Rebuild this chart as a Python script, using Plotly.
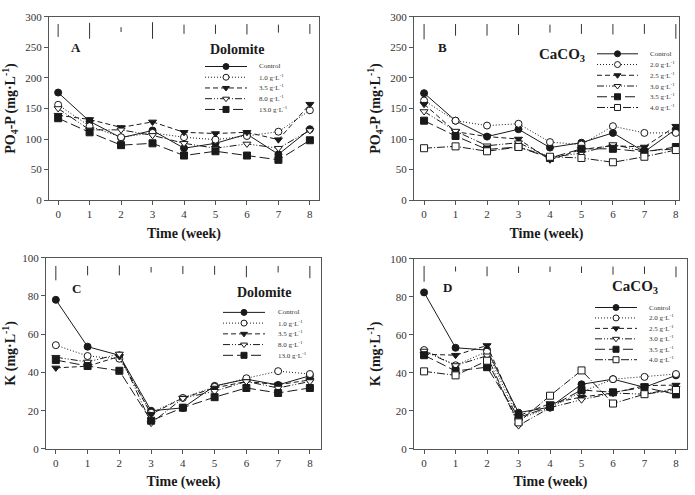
import plotly.graph_objects as go

W, H = 695, 495
weeks = [0, 1, 2, 3, 4, 5, 6, 7, 8]

# ---- Panel A: PO4-P, Dolomite ----
a_labels = ["Control", "1.0 g·L<sup>-1</sup>", "3.5 g·L<sup>-1</sup>", "8.0 g·L<sup>-1</sup>", "13.0 g·L<sup>-1</sup>"]
a_control = [176, 129, 102, 114, 85, 93, 108, 75, 116]
a_1p0 = [156, 121, 103, 110, 103, 99, 105, 112, 147]
a_3p5 = [139, 132, 119, 128, 111, 109, 111, 99, 157]
a_8p0 = [150, 115, 115, 106, 93, 85, 92, 85, 114]
a_13p0 = [134, 111, 90, 93, 73, 80, 73, 66, 98]
a_bar_lo = [267, 264, 275, 264, 272, 272, 271, 274, 272]
a_bar_hi = [288, 290, 283, 291, 287, 287, 288, 287, 288]

# ---- Panel B: PO4-P, CaCO3 ----
b_labels = ["Control", "2.0 g·L<sup>-1</sup>", "2.5 g·L<sup>-1</sup>", "3.0 g·L<sup>-1</sup>", "3.5 g·L<sup>-1</sup>", "4.0 g·L<sup>-1</sup>"]
b_control = [175, 130, 104, 116, 86, 94, 110, 79, 116]
b_2p0 = [163, 130, 122, 125, 95, 91, 121, 110, 110]
b_2p5 = [157, 112, 104, 100, 66, 83, 89, 87, 121]
b_3p0 = [145, 113, 89, 94, 70, 77, 91, 80, 84]
b_3p5 = [130, 105, 83, 87, 69, 84, 84, 79, 87]
b_4p0 = [85, 88, 80, 87, 71, 69, 62, 71, 82]
b_bar_lo = [263, 269, 269, 270, 274, 272, 271, 272, 264]
b_bar_hi = [288, 288, 288, 288, 287, 288, 288, 288, 288]

# ---- Panel C: K, Dolomite ----
c_control = [78, 53.5, 49, 20, 21.5, 33, 36.5, 33.5, 38.3]
c_1p0 = [54.3, 48.6, 47.2, 19, 26.7, 32.5, 37, 40.7, 39.2]
c_3p5 = [42.4, 43.3, 48.4, 18.2, 26.7, 31.9, 35.3, 33.6, 36.1]
c_8p0 = [48, 45.5, 49.7, 13.5, 26.5, 30.2, 35.3, 31.9, 35.3]
c_13p0 = [46.5, 43.4, 40.9, 14.8, 21.6, 27.1, 31.9, 29.3, 31.9]
c_bar_lo = [88.2, 90.8, 90.8, 92.3, 91.5, 91.1, 89.8, 92.3, 89.3]
c_bar_hi = [95.7, 95.7, 96.0, 95.2, 95.7, 95.7, 95.7, 95.7, 95.7]

# ---- Panel D: K, CaCO3 ----
d_control = [82.3, 53.2, 52, 19.1, 22, 34, 36.7, 32.4, 38.7]
d_2p0 = [52, 44, 51.2, 15.7, 21.7, 30, 36.7, 37.9, 39.4]
d_2p5 = [49.8, 49.3, 54.4, 17.4, 23.9, 27.3, 29.4, 33.3, 33.6]
d_3p0 = [51.5, 43.9, 49, 12.3, 21.7, 25.9, 29.4, 28.8, 31.9]
d_3p5 = [49.3, 41, 43, 16.6, 22.2, 31, 29.8, 32.4, 28.7]
d_4p0 = [40.8, 38.7, 46.4, 14, 28, 41.3, 23.9, 28.8, 31]
d_bar_lo = [87.9, 93.3, 90.8, 92.5, 93, 92.5, 91.6, 92, 90.3]
d_bar_hi = [96.2, 95.9, 95.9, 95.9, 95.9, 95.9, 95.9, 95.9, 95.9]

INK = "#1a1a1a"
SERIF = "Liberation Serif"

# style for each series position (marker symbol, fill, dash)
style_control = dict(symbol="circle", fill=INK, dash="solid")
style_dot = dict(symbol="circle", fill="white", dash="1px,2px")
style_dash = dict(symbol="triangle-down", fill=INK, dash="5px,3px")
style_dd = dict(symbol="triangle-down", fill="white", dash="7px,2px,1px,2px,1px,2px")
style_long = dict(symbol="square", fill=INK, dash="10px,4px")
style_dashdot = dict(symbol="square", fill="white", dash="8px,2px,1px,2px")

panels = [
    dict(ax="", series=[a_control, a_1p0, a_3p5, a_8p0, a_13p0], labels=a_labels,
         styles=[style_control, style_dot, style_dash, style_dd, style_long],
         lo=a_bar_lo, hi=a_bar_hi),
    dict(ax="2", series=[b_control, b_2p0, b_2p5, b_3p0, b_3p5, b_4p0], labels=b_labels,
         styles=[style_control, style_dot, style_dash, style_dd, style_long, style_dashdot],
         lo=b_bar_lo, hi=b_bar_hi),
    dict(ax="3", series=[c_control, c_1p0, c_3p5, c_8p0, c_13p0], labels=a_labels,
         styles=[style_control, style_dot, style_dash, style_dd, style_long],
         lo=c_bar_lo, hi=c_bar_hi),
    dict(ax="4", series=[d_control, d_2p0, d_2p5, d_3p0, d_3p5, d_4p0], labels=b_labels,
         styles=[style_control, style_dot, style_dash, style_dd, style_long, style_dashdot],
         lo=d_bar_lo, hi=d_bar_hi),
]

fig = go.Figure()

for p in panels:
    xa, ya = "x" + p["ax"], "y" + p["ax"]
    # vertical bars at top
    bx, by = [], []
    for w, lo, hi in zip(weeks, p["lo"], p["hi"]):
        bx += [w, w, None]
        by += [lo, hi, None]
    fig.add_trace(go.Scatter(x=bx, y=by, mode="lines", line=dict(color="#333", width=1),
                             xaxis=xa, yaxis=ya, showlegend=False, hoverinfo="skip"))
    for vals, lab, st in zip(p["series"], p["labels"], p["styles"]):
        fig.add_trace(go.Scatter(
            x=weeks, y=vals, mode="lines+markers", name=lab, showlegend=False,
            line=dict(color=INK, width=1, dash=st["dash"]),
            marker=dict(symbol=st["symbol"], size=7, color=st["fill"],
                        line=dict(color=INK, width=1)),
            xaxis=xa, yaxis=ya))

# ---- manual legends on a pixel overlay axis ----
legend_pos = [
    dict(x0=205, x1=247, tx=257, y0=62, step=11),
    dict(x0=597, x1=638, tx=648, y0=49, step=11),
    dict(x0=223, x1=265, tx=276, y0=314, step=11),
    dict(x0=595, x1=637, tx=647, y0=309, step=10.7),
]
annotations = []
for p, lp in zip(panels, legend_pos):
    for i, (lab, st) in enumerate(zip(p["labels"], p["styles"])):
        yy = lp["y0"] + i * lp["step"]
        fig.add_trace(go.Scatter(x=[lp["x0"], lp["x1"]], y=[yy, yy], mode="lines",
                                 line=dict(color=INK, width=1, dash=st["dash"]),
                                 xaxis="x5", yaxis="y5", showlegend=False, hoverinfo="skip"))
        fig.add_trace(go.Scatter(x=[(lp["x0"] + lp["x1"]) / 2], y=[yy], mode="markers",
                                 marker=dict(symbol=st["symbol"], size=6, color=st["fill"],
                                             line=dict(color=INK, width=1)),
                                 xaxis="x5", yaxis="y5", showlegend=False, hoverinfo="skip"))
        annotations.append(dict(x=lp["tx"] / W, y=1 - yy / H, xref="paper", yref="paper",
                                text=lab, showarrow=False, xanchor="left", yanchor="middle",
                                font=dict(family=SERIF, size=7, color="#333")))

# panel letters and mineral labels
texts = [
    ("A", 76, 43, 13), ("Dolomite", 237, 45, 14),
    ("B", 442, 43, 13), ("CaCO<sub>3</sub>", 562, 50, 15),
    ("C", 76, 290, 13), ("Dolomite", 264, 294, 14),
    ("D", 447, 288, 13), ("CaCO<sub>3</sub>", 635, 288, 15),
]
for t, px, py, fs in texts:
    annotations.append(dict(x=px / W, y=1 - py / H, xref="paper", yref="paper",
                            text="<b>" + t + "</b>", showarrow=False, xanchor="center",
                            yanchor="middle", font=dict(family=SERIF, size=fs, color=INK)))

def xax(dom, rng):
    return dict(domain=dom, range=rng, tickmode="array", tickvals=weeks, ticks="outside",
                ticklen=4, tickcolor="#555", showline=True, mirror=True, linecolor="#555",
                linewidth=1, showgrid=False, zeroline=False,
                tickfont=dict(family=SERIF, size=11, color="#333"),
                title=dict(text="<b>Time (week)</b>", font=dict(family=SERIF, size=14, color=INK),
                           standoff=8))

def yax(dom, rng, dt, title, anchor):
    return dict(domain=dom, range=rng, dtick=dt, ticks="outside", ticklen=4, tickcolor="#555",
                showline=True, mirror=True, linecolor="#555", linewidth=1, showgrid=False,
                zeroline=False, tickfont=dict(family=SERIF, size=11, color="#333"),
                anchor=anchor,
                title=dict(text=title, font=dict(family=SERIF, size=14, color=INK), standoff=6))

po4_title = "<b>PO<sub>4</sub>-P (mg·L<sup>-1</sup>)</b>"
k_title = "<b>K (mg·L<sup>-1</sup>)</b>"

top_dom = [1 - 199 / H, 1 - 11 / H]
bot_dom = [1 - 454 / H, 1 - 258 / H]

fig.update_layout(
    width=W, height=H, margin=dict(l=0, r=0, t=0, b=0),
    paper_bgcolor="white", plot_bgcolor="rgba(0,0,0,0)",
    showlegend=False,
    xaxis=dict(xax([49 / W, 319 / W], [-0.29, 8.29]), anchor="y"),
    yaxis=yax(top_dom, [0, 300], 50, po4_title, "x"),
    xaxis2=dict(xax([414 / W, 679 / W], [-0.32, 8.1]), anchor="y2"),
    yaxis2=yax(top_dom, [0, 300], 50, po4_title, "x2"),
    xaxis3=dict(xax([46 / W, 321 / W], [-0.31, 8.35]), anchor="y3"),
    yaxis3=yax(bot_dom, [0, 100], 20, k_title, "x3"),
    xaxis4=dict(xax([414 / W, 687 / W], [-0.32, 8.35]), anchor="y4"),
    yaxis4=yax([1 - 454 / H, 1 - 259 / H], [0, 100], 20, k_title, "x4"),
    xaxis5=dict(domain=[0, 1], range=[0, W], visible=False, fixedrange=True, anchor="y5"),
    yaxis5=dict(domain=[0, 1], range=[H, 0], visible=False, fixedrange=True, anchor="x5"),
    annotations=annotations,
)

fig.write_html("out.html")
